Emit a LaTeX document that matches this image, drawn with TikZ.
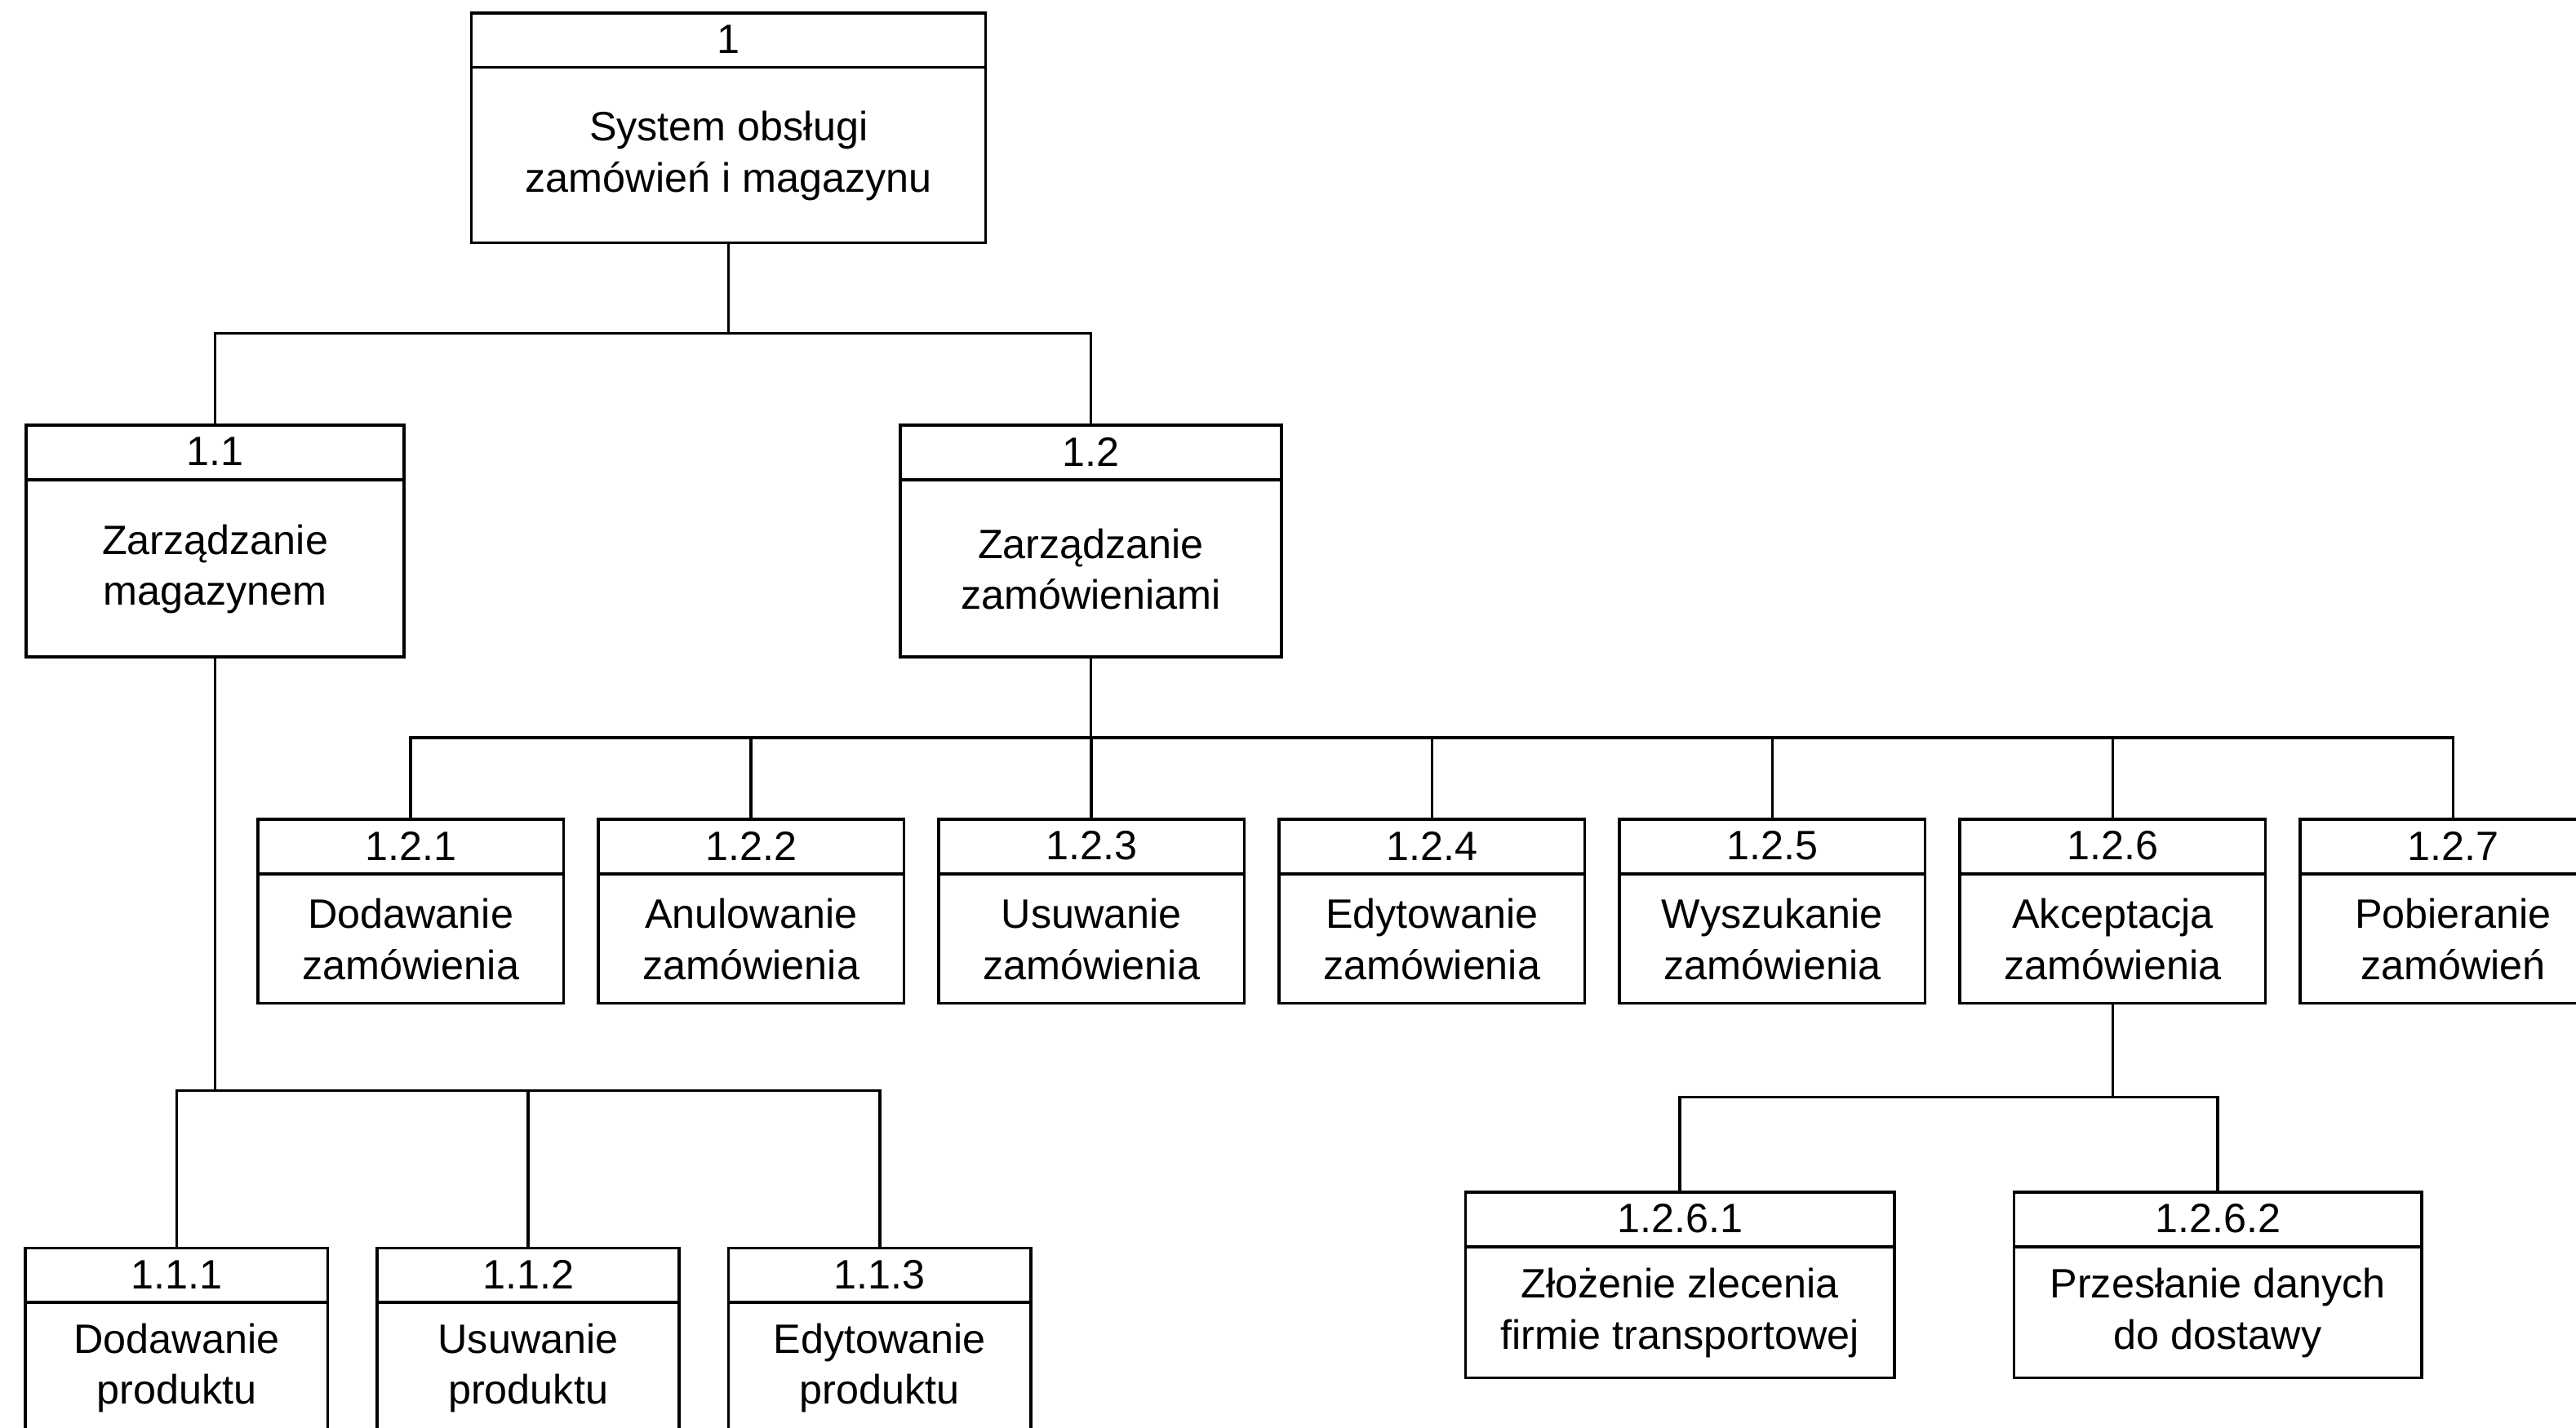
\documentclass[tikz,border=0pt]{standalone}
\usepackage{fontspec}
\setmainfont{Liberation Sans}
\begin{document}
\begin{tikzpicture}[x=1pt,y=-1pt,
  box/.style={draw=black, line width=1.8pt, minimum width=#1, inner sep=0pt, anchor=north},
  hdr/.style={font=\fontsize{25}{31}\selectfont},
  body/.style={font=\fontsize{25}{31}\selectfont, align=center},
  conn/.style={draw=black, line width=1.8pt}]
\useasboundingbox (0,0) rectangle (1568,869);
% pbox: name, cx, top, width, height, label, text
\newcommand{\pbox}[7]{%
  \node[box=#4, minimum height=#5] (#1) at (#2,#3) {};
  \draw[line width=1.8pt] ([yshift=-34pt]#1.north west) -- ([yshift=-34pt]#1.north east);
  \node[hdr] (#1l) at ([yshift=-17pt]#1.north) {#6};
  \path ([yshift=-34pt]#1.north) -- (#1.south) node[midway, body] (#1t) {#7};
}
\pbox{a}{443.5}{7}{313}{140}{1}{System obsługi\\zamówień i magazynu}
\pbox{b}{131}{258}{230}{141}{1.1}{Zarządzanie\\magazynem}
\pbox{c}{664}{258}{232}{141}{1.2}{Zarządzanie\\zamówieniami}
\pbox{c1}{250}{498}{186}{112}{1.2.1}{Dodawanie\\zamówienia}
\pbox{c2}{457.2}{498}{186}{112}{1.2.2}{Anulowanie\\zamówienia}
\pbox{c3}{664.4}{498}{186}{112}{1.2.3}{Usuwanie\\zamówienia}
\pbox{c4}{871.6}{498}{186}{112}{1.2.4}{Edytowanie\\zamówienia}
\pbox{c5}{1078.8}{498}{186}{112}{1.2.5}{Wyszukanie\\zamówienia}
\pbox{c6}{1286}{498}{186}{112}{1.2.6}{Akceptacja\\zamówienia}
\pbox{c7}{1493.2}{498}{186}{112}{1.2.7}{Pobieranie\\zamówień}
\pbox{b1}{107.5}{759}{184}{112}{1.1.1}{Dodawanie\\produktu}
\pbox{b2}{321.5}{759}{184}{112}{1.1.2}{Usuwanie\\produktu}
\pbox{b3}{535.5}{759}{184}{112}{1.1.3}{Edytowanie\\produktu}
\pbox{d1}{1022.5}{725}{261}{113}{1.2.6.1}{Złożenie zlecenia\\firmie transportowej}
\pbox{d2}{1350}{725}{248}{113}{1.2.6.2}{Przesłanie danych\\do dostawy}
% junctions
\coordinate (ja) at (443.5,203);
\coordinate (jc) at (664,449);
\coordinate (jb) at (131,664);
\coordinate (jd) at (1286,668);
\draw[conn] (a.south) -- (ja);
\draw[conn] (ja) -| (b.north);
\draw[conn] (ja) -| (c.north);
\draw[conn] (c.south) -- (jc);
\foreach \n in {c1,c2,c3,c4,c5,c6,c7} \draw[conn] (jc) -| (\n.north);
\draw[conn] (b.south) -- (jb);
\foreach \n in {b1,b2,b3} \draw[conn] (jb) -| (\n.north);
\draw[conn] (c6.south) -- (jd);
\foreach \n in {d1,d2} \draw[conn] (jd) -| (\n.north);
\end{tikzpicture}
\end{document}
